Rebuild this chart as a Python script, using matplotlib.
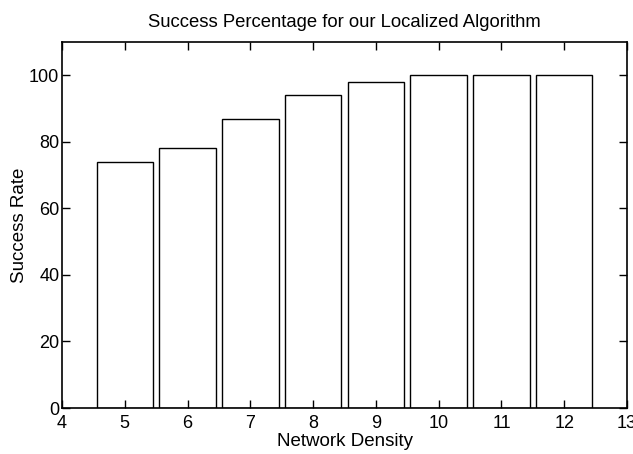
import numpy as np
import matplotlib
matplotlib.use("Agg")
import matplotlib.pyplot as plt

# data
density = [5, 6, 7, 8, 9, 10, 11, 12]
success = [74, 78, 87, 94, 98, 100, 100, 100]

plt.rcParams['font.family'] = ['Liberation Sans', 'DejaVu Sans']

fig = plt.figure(figsize=(6.33, 4.54), dpi=100)
ax = fig.add_axes([0.098, 0.1013, 0.8925, 0.8062])

ax.bar(density, success, width=0.9, color='white', edgecolor='black', linewidth=1.0)

ax.set_xlim(4, 13)
ax.set_ylim(0, 110)
ax.set_xticks(np.arange(4, 14, 1))
ax.set_yticks(np.arange(0, 101, 20))
ax.tick_params(direction='in', top=True, right=True, length=6, width=1, labelsize=13)
ax.tick_params(axis='x', pad=5)
ax.tick_params(axis='y', pad=2)
for s in ax.spines.values():
    s.set_linewidth(1.2)

ax.set_xlabel("Network Density", fontsize=13.5, labelpad=1)
ax.set_ylabel("Success Rate", fontsize=13.5, labelpad=1)
ax.set_title("Success Percentage for our Localized Algorithm", fontsize=13.3, pad=11)

fig.savefig("out.png", dpi=100)
